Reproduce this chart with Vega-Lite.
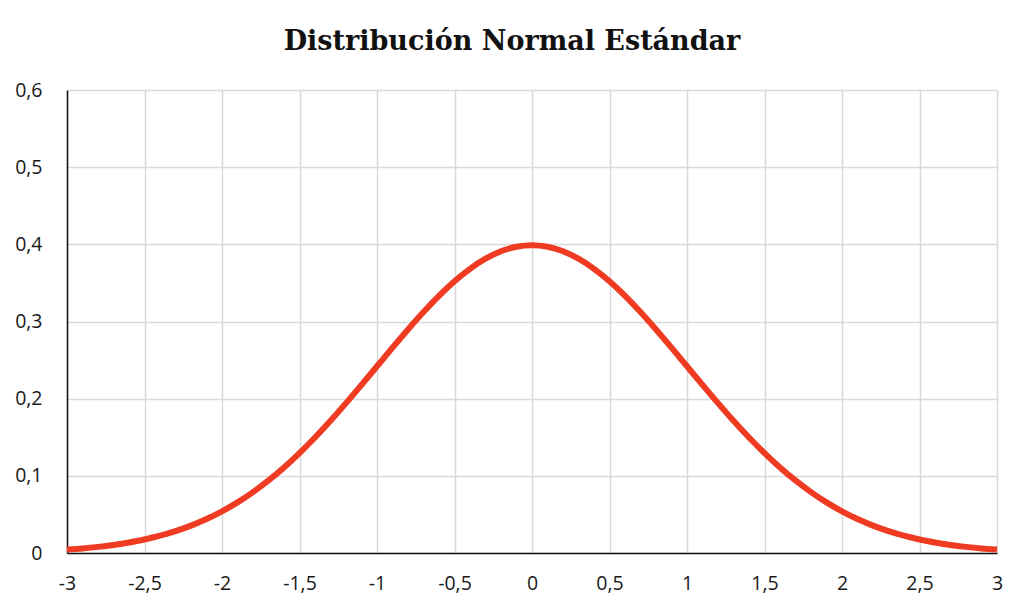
{
  "$schema": "https://vega.github.io/schema/vega-lite/v6.json",
  "width": 930,
  "height": 463,
  "autosize": "none",
  "padding": {"left": 67, "top": 90, "right": 27, "bottom": 62},
  "background": "white",
  "title": {
    "text": "Distribución Normal Estándar",
    "font": "DejaVu Serif",
    "fontSize": 27,
    "fontWeight": "bold",
    "color": "#111111",
    "anchor": "middle",
    "dx": -20,
    "offset": 24
  },
  "config": {
    "view": {"stroke": null}
  },
  "data": {
    "values": [
      {"x": -3.0, "y": 0.00443}, {"x": -2.9, "y": 0.00595}, {"x": -2.8, "y": 0.00792}, {"x": -2.7, "y": 0.01042},
      {"x": -2.6, "y": 0.01358}, {"x": -2.5, "y": 0.01753}, {"x": -2.4, "y": 0.02239}, {"x": -2.3, "y": 0.02833},
      {"x": -2.2, "y": 0.03547}, {"x": -2.1, "y": 0.04398}, {"x": -2.0, "y": 0.05399}, {"x": -1.9, "y": 0.06562},
      {"x": -1.8, "y": 0.07895}, {"x": -1.7, "y": 0.09405}, {"x": -1.6, "y": 0.11092}, {"x": -1.5, "y": 0.12952},
      {"x": -1.4, "y": 0.14973}, {"x": -1.3, "y": 0.17137}, {"x": -1.2, "y": 0.19419}, {"x": -1.1, "y": 0.21785},
      {"x": -1.0, "y": 0.24197}, {"x": -0.9, "y": 0.26609}, {"x": -0.8, "y": 0.28969}, {"x": -0.7, "y": 0.31225},
      {"x": -0.6, "y": 0.33322}, {"x": -0.5, "y": 0.35207}, {"x": -0.4, "y": 0.36827}, {"x": -0.3, "y": 0.38139},
      {"x": -0.2, "y": 0.39104}, {"x": -0.1, "y": 0.39695}, {"x": 0.0, "y": 0.39894},
      {"x": 0.1, "y": 0.39695}, {"x": 0.2, "y": 0.39104}, {"x": 0.3, "y": 0.38139}, {"x": 0.4, "y": 0.36827},
      {"x": 0.5, "y": 0.35207}, {"x": 0.6, "y": 0.33322}, {"x": 0.7, "y": 0.31225}, {"x": 0.8, "y": 0.28969},
      {"x": 0.9, "y": 0.26609}, {"x": 1.0, "y": 0.24197}, {"x": 1.1, "y": 0.21785}, {"x": 1.2, "y": 0.19419},
      {"x": 1.3, "y": 0.17137}, {"x": 1.4, "y": 0.14973}, {"x": 1.5, "y": 0.12952}, {"x": 1.6, "y": 0.11092},
      {"x": 1.7, "y": 0.09405}, {"x": 1.8, "y": 0.07895}, {"x": 1.9, "y": 0.06562}, {"x": 2.0, "y": 0.05399},
      {"x": 2.1, "y": 0.04398}, {"x": 2.2, "y": 0.03547}, {"x": 2.3, "y": 0.02833}, {"x": 2.4, "y": 0.02239},
      {"x": 2.5, "y": 0.01753}, {"x": 2.6, "y": 0.01358}, {"x": 2.7, "y": 0.01042}, {"x": 2.8, "y": 0.00792},
      {"x": 2.9, "y": 0.00595}, {"x": 3.0, "y": 0.00443}
    ]
  },
  "mark": {"type": "line", "color": "#EE3B22", "strokeWidth": 6, "interpolate": "monotone", "strokeCap": "butt", "clip": false},
  "encoding": {
    "x": {
      "field": "x",
      "type": "quantitative",
      "title": null,
      "scale": {"domain": [-3, 3], "nice": false, "zero": false},
      "axis": {
        "values": [-3, -2.5, -2, -1.5, -1, -0.5, 0, 0.5, 1, 1.5, 2, 2.5, 3],
        "labelExpr": "replace(toString(datum.value), '.', ',')",
        "labelFont": "Open Sans",
        "labelFontSize": 19.5,
        "labelColor": "#1a1a1a",
        "labelPadding": 21,
        "labelFlush": false,
        "ticks": false,
        "gridColor": "#d9d9d9",
        "gridWidth": 1.5,
        "domainColor": "#111111",
        "domainWidth": 1.5
      }
    },
    "y": {
      "field": "y",
      "type": "quantitative",
      "title": null,
      "scale": {"domain": [0, 0.6], "nice": false},
      "axis": {
        "values": [0, 0.1, 0.2, 0.3, 0.4, 0.5, 0.6],
        "labelExpr": "replace(toString(datum.value), '.', ',')",
        "labelFont": "Open Sans",
        "labelFontSize": 19.5,
        "labelColor": "#1a1a1a",
        "labelPadding": 25,
        "ticks": false,
        "gridColor": "#d9d9d9",
        "gridWidth": 1.5,
        "domainColor": "#111111",
        "domainWidth": 1.5
      }
    }
  }
}
